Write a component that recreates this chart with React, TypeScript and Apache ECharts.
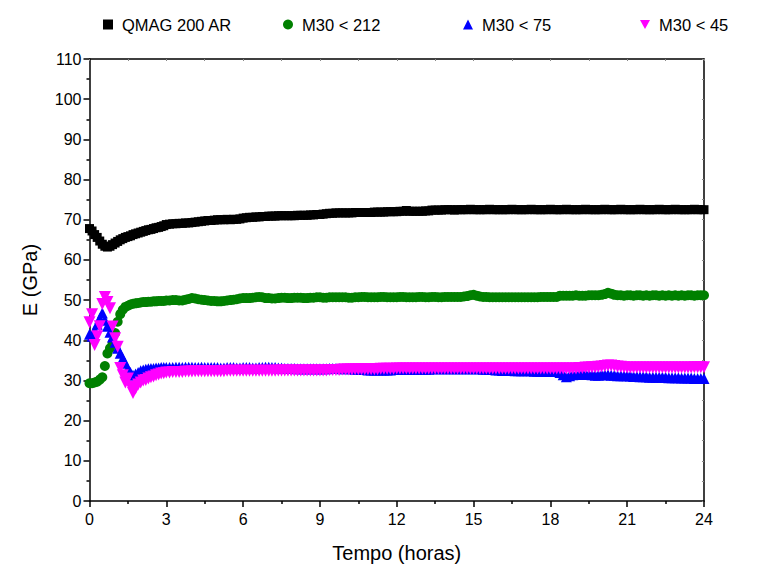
import React, { useEffect, useRef } from "react";
import * as echarts from "echarts";

const times: number[] = [
  0, 0.1, 0.2, 0.3, 0.4, 0.5, 0.6, 0.7, 0.8, 0.9, 1.0, 1.1, 1.2, 1.3, 1.4, 1.5, 1.6, 1.7, 1.8, 1.9, 2.0,
  2.1, 2.2, 2.3, 2.4, 2.5, 2.6, 2.7, 2.8, 2.9, 3.0,
  3.125, 3.25, 3.375, 3.5, 3.625, 3.75, 3.875, 4,
  4.125, 4.25, 4.375, 4.5, 4.625, 4.75, 4.875, 5,
  5.125, 5.25, 5.375, 5.5, 5.625, 5.75, 5.875, 6,
  6.125, 6.25, 6.375, 6.5, 6.625, 6.75, 6.875, 7,
  7.125, 7.25, 7.375, 7.5, 7.625, 7.75, 7.875, 8,
  8.125, 8.25, 8.375, 8.5, 8.625, 8.75, 8.875, 9,
  9.125, 9.25, 9.375, 9.5, 9.625, 9.75, 9.875, 10,
  10.125, 10.25, 10.375, 10.5, 10.625, 10.75, 10.875, 11,
  11.125, 11.25, 11.375, 11.5, 11.625, 11.75, 11.875, 12,
  12.125, 12.25, 12.375, 12.5, 12.625, 12.75, 12.875, 13,
  13.125, 13.25, 13.375, 13.5, 13.625, 13.75, 13.875, 14,
  14.125, 14.25, 14.375, 14.5, 14.625, 14.75, 14.875, 15,
  15.125, 15.25, 15.375, 15.5, 15.625, 15.75, 15.875, 16,
  16.125, 16.25, 16.375, 16.5, 16.625, 16.75, 16.875, 17,
  17.125, 17.25, 17.375, 17.5, 17.625, 17.75, 17.875, 18,
  18.125, 18.25, 18.375, 18.5, 18.625, 18.75, 18.875, 19,
  19.125, 19.25, 19.375, 19.5, 19.625, 19.75, 19.875, 20,
  20.125, 20.25, 20.375, 20.5, 20.625, 20.75, 20.875, 21,
  21.125, 21.25, 21.375, 21.5, 21.625, 21.75, 21.875, 22,
  22.125, 22.25, 22.375, 22.5, 22.625, 22.75, 22.875, 23,
  23.125, 23.25, 23.375, 23.5, 23.625, 23.75, 23.875, 24,
];

const qmag200: number[] = [
  67.8, 67.2, 66.3, 65.6, 64.7, 63.9, 63.4, 63.2, 63.4, 63.8, 64.2, 64.6, 65.0, 65.3, 65.6, 65.8, 66.0, 66.3, 66.5, 66.7, 66.9,
  67.1, 67.3, 67.5, 67.6, 67.8, 68.0, 68.1, 68.3, 68.5, 68.8,
  68.9, 69.0, 69.0, 69.1, 69.1, 69.2, 69.2, 69.3,
  69.4, 69.5, 69.6, 69.7, 69.8, 69.8, 69.9, 70.0,
  70.0, 70.0, 70.1, 70.0, 70.1, 70.1, 70.2, 70.4,
  70.5, 70.6, 70.6, 70.7, 70.7, 70.8, 70.8, 70.9,
  70.9, 70.9, 71.0, 71.0, 71.0, 71.0, 71.0, 71.0,
  71.1, 71.1, 71.1, 71.1, 71.2, 71.2, 71.3, 71.3,
  71.4, 71.5, 71.6, 71.6, 71.7, 71.7, 71.7, 71.7,
  71.7, 71.7, 71.8, 71.8, 71.8, 71.8, 71.8, 71.8,
  71.9, 71.9, 71.9, 71.9, 72.0, 72.0, 72.0, 72.0,
  72.1, 72.1, 72.3, 72.1, 72.1, 72.1, 72.1, 72.1,
  72.2, 72.2, 72.4, 72.4, 72.4, 72.4, 72.5, 72.5,
  72.5, 72.4, 72.5, 72.5, 72.5, 72.5, 72.6, 72.5,
  72.5, 72.5, 72.5, 72.5, 72.6, 72.5, 72.5, 72.5,
  72.5, 72.5, 72.5, 72.6, 72.5, 72.5, 72.5, 72.5,
  72.5, 72.6, 72.5, 72.5, 72.5, 72.5, 72.5, 72.6,
  72.5, 72.5, 72.5, 72.5, 72.6, 72.5, 72.5, 72.5,
  72.5, 72.5, 72.6, 72.5, 72.5, 72.5, 72.5, 72.5,
  72.6, 72.5, 72.5, 72.5, 72.5, 72.6, 72.5, 72.5,
  72.5, 72.5, 72.5, 72.6, 72.5, 72.5, 72.5, 72.5,
  72.5, 72.6, 72.5, 72.5, 72.5, 72.5, 72.6, 72.5,
  72.5, 72.5, 72.5, 72.5, 72.6, 72.5, 72.5, 72.5,
  72.5, 72.5, 72.6, 72.5, 72.5, 72.5, 72.5, 72.6,
];

const m30lt212: number[] = [
  29.3, 29.3, 29.5, 29.7, 30.2, 30.8, 33.6, 36.7, 38.0, 39.3, 41.8, 44.6, 46.5, 47.6, 48.3, 48.6, 48.9, 49.1, 49.2, 49.3, 49.4,
  49.5, 49.5, 49.6, 49.6, 49.7, 49.7, 49.8, 49.8, 49.8, 49.9,
  49.9, 50.0, 50.0, 49.9, 49.9, 50.1, 50.3, 50.5,
  50.4, 50.2, 50.1, 50.0, 49.9, 49.8, 49.8, 49.7,
  49.7, 49.8, 49.9, 50.0, 50.1, 50.2, 50.4, 50.5,
  50.5, 50.5, 50.6, 50.7, 50.8, 50.7, 50.5, 50.5,
  50.4, 50.4, 50.5, 50.6, 50.6, 50.5, 50.5, 50.6,
  50.6, 50.6, 50.5, 50.5, 50.6, 50.6, 50.7, 50.7,
  50.6, 50.6, 50.7, 50.7, 50.7, 50.7, 50.7, 50.7,
  50.6, 50.6, 50.7, 50.7, 50.8, 50.8, 50.7, 50.7,
  50.7, 50.7, 50.8, 50.8, 50.7, 50.7, 50.7, 50.7,
  50.8, 50.8, 50.7, 50.7, 50.7, 50.7, 50.8, 50.8,
  50.7, 50.7, 50.8, 50.8, 50.7, 50.7, 50.8, 50.8,
  50.8, 50.8, 50.8, 50.8, 50.9, 51.0, 51.2, 51.3,
  51.1, 50.9, 50.8, 50.8, 50.7, 50.7, 50.7, 50.7,
  50.7, 50.7, 50.7, 50.7, 50.7, 50.7, 50.7, 50.7,
  50.7, 50.7, 50.7, 50.7, 50.8, 50.8, 50.8, 50.8,
  50.8, 50.8, 51.1, 51.1, 51.1, 51.1, 51.1, 51.2,
  51.1, 51.1, 51.1, 51.2, 51.2, 51.2, 51.2, 51.3,
  51.5, 51.8, 51.6, 51.3, 51.2, 51.2, 51.1, 51.2,
  51.2, 51.1, 51.2, 51.2, 51.1, 51.2, 51.1, 51.2,
  51.2, 51.1, 51.2, 51.1, 51.2, 51.1, 51.2, 51.1,
  51.2, 51.1, 51.2, 51.2, 51.1, 51.2, 51.2, 51.2,
];

const m30lt75: number[] = [
  41.5, 41.0, 42.5, 44.0, 45.5, 46.8, 45.0, 43.5, 42.0, 40.8, 39.5, 38.0, 36.8, 35.5, 34.3, 33.0, 32.0, 31.3, 31.6, 32.0, 32.4,
  32.6, 32.8, 32.9, 33.0, 33.0, 33.1, 33.1, 33.2, 33.2, 33.2,
  33.2, 33.2, 33.3, 33.3, 33.2, 33.3, 33.3, 33.3,
  33.2, 33.2, 33.3, 33.2, 33.2, 33.2, 33.2, 33.2,
  33.1, 33.1, 33.2, 33.2, 33.2, 33.1, 33.1, 33.2,
  33.2, 33.2, 33.1, 33.1, 33.2, 33.2, 33.3, 33.3,
  33.2, 33.2, 33.1, 33.1, 33.0, 33.0, 33.0, 33.0,
  32.9, 32.9, 32.9, 32.9, 32.9, 32.9, 32.9, 32.9,
  32.9, 32.9, 33.0, 33.0, 33.0, 33.0, 32.9, 32.9,
  33.0, 32.9, 32.8, 32.8, 32.7, 32.7, 32.6, 32.6,
  32.6, 32.6, 32.6, 32.6, 32.6, 32.6, 32.7, 32.7,
  32.7, 32.7, 32.7, 32.7, 32.8, 32.8, 32.8, 32.8,
  32.8, 32.8, 32.9, 32.9, 32.9, 32.9, 32.9, 32.9,
  32.9, 32.9, 32.9, 32.9, 32.9, 32.9, 32.9, 32.9,
  32.9, 32.9, 32.8, 32.8, 32.7, 32.7, 32.6, 32.6,
  32.5, 32.5, 32.5, 32.5, 32.4, 32.4, 32.4, 32.4,
  32.4, 32.4, 32.3, 32.3, 32.3, 32.3, 32.3, 32.2,
  32.2, 32.2, 32.0, 31.4, 30.9, 31.2, 31.4, 31.5,
  31.6, 31.6, 31.5, 31.5, 31.4, 31.3, 31.3, 31.4,
  31.4, 31.4, 31.3, 31.3, 31.2, 31.2, 31.2, 31.2,
  31.1, 31.0, 31.0, 30.9, 30.9, 30.9, 30.8, 30.8,
  30.8, 30.8, 30.8, 30.8, 30.7, 30.7, 30.7, 30.7,
  30.6, 30.6, 30.6, 30.6, 30.5, 30.5, 30.5, 30.5,
];

const m30lt45: number[] = [
  44.5, 46.5, 38.8, 41.0, 43.5, 49.0, 50.8, 49.5, 48.0, 43.4, 40.5, 38.4, 33.1, 31.3, 29.5, 30.5, 28.5, 26.9, 28.0, 29.0, 29.5,
  30.0, 30.1, 30.5, 30.8, 31.0, 31.3, 31.5, 31.7, 31.8, 32.0,
  32.0, 32.1, 32.1, 32.1, 32.1, 32.2, 32.2, 32.2,
  32.3, 32.3, 32.3, 32.3, 32.3, 32.3, 32.3, 32.3,
  32.3, 32.3, 32.4, 32.4, 32.4, 32.4, 32.4, 32.4,
  32.4, 32.4, 32.4, 32.4, 32.4, 32.4, 32.4, 32.4,
  32.4, 32.4, 32.5, 32.5, 32.5, 32.5, 32.5, 32.5,
  32.5, 32.5, 32.5, 32.5, 32.5, 32.5, 32.5, 32.5,
  32.5, 32.5, 32.6, 32.6, 32.6, 32.6, 32.7, 32.7,
  32.7, 32.7, 32.8, 32.8, 32.8, 32.8, 32.8, 32.8,
  32.8, 32.8, 32.9, 32.9, 32.9, 32.9, 32.9, 33.0,
  33.0, 33.0, 33.0, 33.0, 33.0, 33.0, 33.0, 33.0,
  33.0, 33.0, 33.0, 33.0, 33.0, 33.0, 33.0, 33.0,
  33.0, 33.0, 33.0, 33.0, 33.0, 33.0, 33.0, 33.0,
  33.0, 33.0, 33.0, 33.0, 33.0, 33.0, 33.0, 33.0,
  33.0, 33.0, 33.0, 33.0, 33.0, 33.0, 33.0, 33.0,
  33.0, 33.0, 33.0, 33.0, 33.0, 33.0, 33.0, 33.0,
  33.0, 33.0, 33.0, 33.0, 33.0, 33.0, 33.0, 33.0,
  33.1, 33.1, 33.2, 33.2, 33.3, 33.3, 33.4, 33.5,
  33.6, 33.7, 33.7, 33.6, 33.5, 33.4, 33.3, 33.2,
  33.2, 33.2, 33.2, 33.2, 33.2, 33.2, 33.2, 33.2,
  33.2, 33.2, 33.2, 33.2, 33.2, 33.2, 33.2, 33.2,
  33.2, 33.2, 33.2, 33.2, 33.3, 33.3, 33.3, 33.3,
];

const seriesNames = ["QMAG 200 AR", "M30 < 212", "M30 < 75", "M30 < 45"];
const xTicks = { min: 0, max: 24, interval: 3 };
const yTicks = { min: 0, max: 110, interval: 10 };

const FONT = "'Liberation Sans', Arial, Helvetica, sans-serif";

export default function App() {
  const ref = useRef<HTMLDivElement>(null);
  useEffect(() => {
    if (!ref.current) return;
    const chart = echarts.init(ref.current, null, { renderer: "svg" });
    const pair = (vals: number[]) => times.map((t, i) => [t, vals[i]]);
    const axisLineStyle = { color: "#000", width: 1.5 };
    const legendLefts = [98, 278, 458, 635];
    const legendIcons = ["rect", "circle", "triangle", "path://M0,0 L10,0 L5,9 Z"];
    chart.setOption({
      animation: false,
      backgroundColor: "#fff",
      textStyle: { fontFamily: FONT },
      legend: seriesNames.map((n, i) => ({
        left: legendLefts[i],
        top: 11,
        data: [{ name: n, icon: legendIcons[i] }],
        itemWidth: 10,
        itemHeight: 10,
        textStyle: { fontSize: 16.5, color: "#000", fontFamily: FONT, padding: [0, 0, 0, 4] },
      })),
      grid: { left: 89.5, right: 61, top: 59, bottom: 68, containLabel: false },
      xAxis: [
        {
          type: "value",
          ...xTicks,
          name: "Tempo (horas)",
          nameLocation: "middle",
          nameGap: 42,
          nameTextStyle: { fontSize: 20, color: "#000", fontFamily: FONT },
          axisLine: { show: true, onZero: false, lineStyle: axisLineStyle },
          axisTick: { show: true, inside: false, length: 6, lineStyle: { color: "#000", width: 1.5 } },
          minorTick: { show: true, splitNumber: 2, length: 3, lineStyle: { color: "#000", width: 1.5 } },
          axisLabel: { fontSize: 16, color: "#000", margin: 10, fontFamily: FONT },
          splitLine: { show: false },
        },
        {
          type: "value",
          ...xTicks,
          position: "top",
          axisLine: { show: true, onZero: false, lineStyle: axisLineStyle },
          axisTick: { show: true, inside: true, length: 2, lineStyle: { color: "#888", width: 1 } },
          minorTick: { show: true, splitNumber: 2, length: 2, lineStyle: { color: "#888", width: 1 } },
          axisLabel: { show: false },
          splitLine: { show: false },
        },
      ],
      yAxis: [
        {
          type: "value",
          ...yTicks,
          name: "E (GPa)",
          nameLocation: "middle",
          nameGap: 50,
          nameTextStyle: { fontSize: 20, color: "#000", fontFamily: FONT },
          axisLine: { show: true, onZero: false, lineStyle: axisLineStyle },
          axisTick: { show: true, inside: false, length: 6, lineStyle: { color: "#000", width: 1.5 } },
          minorTick: { show: true, splitNumber: 2, length: 3, lineStyle: { color: "#000", width: 1.5 } },
          axisLabel: { fontSize: 16, color: "#000", margin: 8, fontFamily: FONT },
          splitLine: { show: false },
        },
        {
          type: "value",
          ...yTicks,
          position: "right",
          axisLine: { show: true, onZero: false, lineStyle: axisLineStyle },
          axisTick: { show: true, inside: true, length: 2, lineStyle: { color: "#888", width: 1 } },
          minorTick: { show: true, splitNumber: 2, length: 2, lineStyle: { color: "#888", width: 1 } },
          axisLabel: { show: false },
          splitLine: { show: false },
        },
      ],
      series: [
        {
          name: seriesNames[0],
          type: "scatter",
          symbol: "rect",
          symbolSize: 9,
          itemStyle: { color: "#000000", opacity: 1 },
          data: pair(qmag200),
        },
        {
          name: seriesNames[1],
          type: "scatter",
          symbol: "circle",
          symbolSize: 10,
          itemStyle: { color: "#008000", opacity: 1 },
          data: pair(m30lt212),
        },
        {
          name: seriesNames[2],
          type: "scatter",
          symbol: "triangle",
          symbolSize: 11,
          itemStyle: { color: "#0000ff", opacity: 1 },
          data: pair(m30lt75),
        },
        {
          name: seriesNames[3],
          type: "scatter",
          symbol: "triangle",
          symbolRotate: 180,
          symbolSize: 12,
          itemStyle: { color: "#ff00ff", opacity: 1 },
          data: pair(m30lt45),
        },
      ],
    });
    return () => chart.dispose();
  }, []);
  return <div ref={ref} style={{ width: 765, height: 569, position: "absolute", left: 0, top: 0 }} />;
}
